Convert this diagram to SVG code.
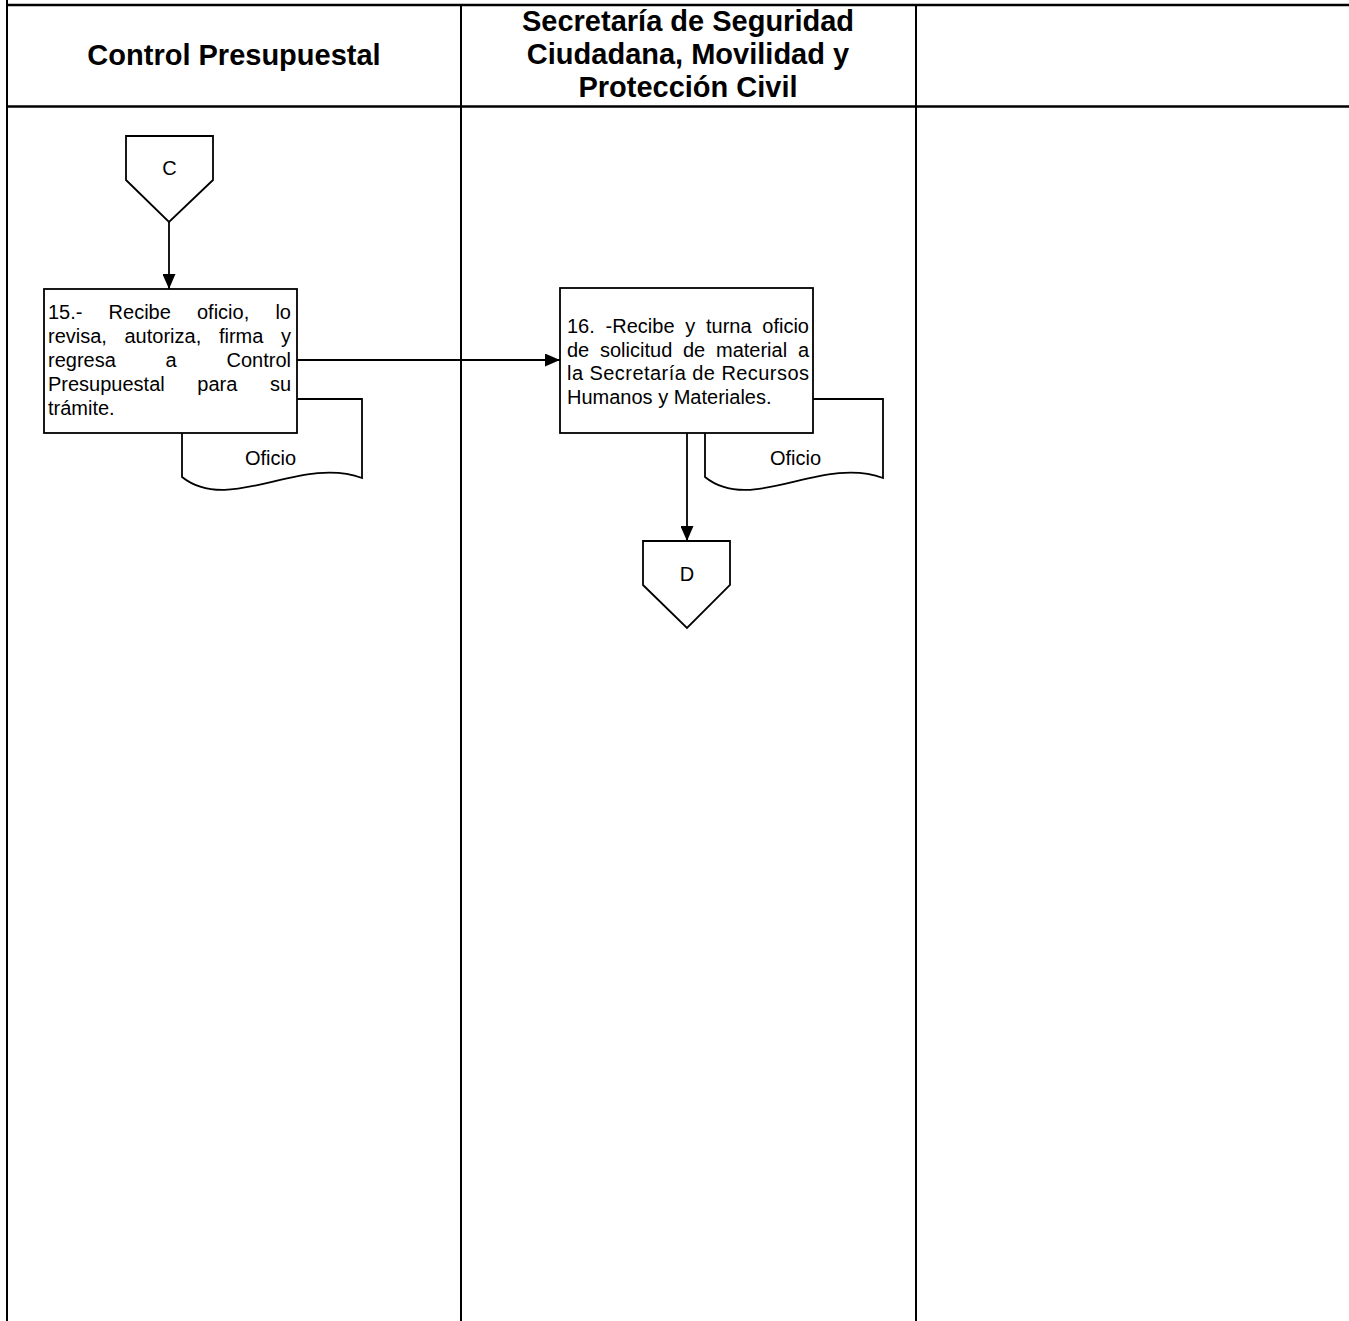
<svg xmlns="http://www.w3.org/2000/svg" width="1349" height="1321" viewBox="0 0 1349 1321">
<style>
.lane{stroke:#000;stroke-width:2;fill:none}
.laneh{stroke:#000;stroke-width:2.5;fill:none}
.shape{stroke:#000;stroke-width:1.8;fill:#fff}
.conn{stroke:#000;stroke-width:1.8;fill:none}
.hdr{font-family:"Liberation Sans",Arial,sans-serif;font-weight:bold;font-size:29px;fill:#000;text-anchor:middle}
.t{font-family:"Liberation Sans",Arial,sans-serif;font-size:20px;fill:#000}
.tc{font-family:"Liberation Sans",Arial,sans-serif;font-size:20px;fill:#000;text-anchor:middle}
</style>
<defs>
<marker id="arr" markerWidth="15" markerHeight="13" refX="15" refY="6.5" orient="auto" markerUnits="userSpaceOnUse">
<path d="M0,0 L15,6.5 L0,13 z" fill="#000"/>
</marker>
</defs>
<rect x="0" y="0" width="1349" height="1321" fill="#fff"/>
<g id="lanes">
<line class="lane" x1="7" y1="0" x2="7" y2="1321"/>
<line class="laneh" x1="7" y1="5" x2="1349" y2="5"/>
<line class="laneh" x1="7" y1="106.5" x2="1349" y2="106.5"/>
<line class="lane" x1="461" y1="5" x2="461" y2="1321"/>
<line class="lane" x1="916" y1="5" x2="916" y2="1321"/>
<text class="hdr" x="234" y="65">Control Presupuestal</text>
<text class="hdr" x="688" y="31">Secretaría de Seguridad</text>
<text class="hdr" x="688" y="64">Ciudadana, Movilidad y</text>
<text class="hdr" x="688" y="97">Protección Civil</text>
</g>
<g id="doc15">
<path class="shape" d="M182,399 L362,399 L362,478 C300,455 230,515 182,477 Z"/>
<text class="t" x="245" y="465">Oficio</text>
</g>
<g id="doc16">
<path class="shape" d="M705,399 L883,399 L883,478 C821,455 752,515 705,477 Z"/>
<text class="t" x="770" y="465">Oficio</text>
</g>
<g id="connC">
<path class="shape" d="M126,136 L213,136 L213,180 L169,222 L126,180 Z"/>
<text class="tc" x="169.5" y="175">C</text>
</g>
<g id="step15">
<rect class="shape" x="44" y="289" width="253" height="144"/>
<text class="t" y="319"><tspan x="48">15.-</tspan><tspan x="108.6">Recibe</tspan><tspan x="197">oficio,</tspan><tspan x="275.4">lo</tspan></text>
<text class="t" y="343"><tspan x="48">revisa,</tspan><tspan x="124.5">autoriza,</tspan><tspan x="218.9">firma</tspan><tspan x="281">y</tspan></text>
<text class="t" y="367"><tspan x="48">regresa</tspan><tspan x="165.6">a</tspan><tspan x="226.5">Control</tspan></text>
<text class="t" y="391"><tspan x="48">Presupuestal</tspan><tspan x="197.3">para</tspan><tspan x="269.9">su</tspan></text>
<text class="t" x="48" y="415">trámite.</text>
</g>
<g id="step16">
<rect class="shape" x="560" y="288" width="253" height="145"/>
<text class="t" y="333"><tspan x="567">16.</tspan><tspan x="605.6">-Recibe</tspan><tspan x="685.2">y</tspan><tspan x="706">turna</tspan><tspan x="762.3">oficio</tspan></text>
<text class="t" y="356.5"><tspan x="567">de</tspan><tspan x="600">solicitud</tspan><tspan x="683">de</tspan><tspan x="716">material</tspan><tspan x="797.9">a</tspan></text>
<text class="t" x="567" y="380" textLength="242" lengthAdjust="spacing">la Secretaría de Recursos</text>
<text class="t" x="567" y="403.5">Humanos y Materiales.</text>
</g>
<g id="connD">
<path class="shape" d="M643,541 L730,541 L730,585 L687,628 L643,585 Z"/>
<text class="tc" x="687" y="581">D</text>
</g>
<g id="connectors">
<line class="conn" x1="169" y1="222" x2="169" y2="289" marker-end="url(#arr)"/>
<line class="conn" x1="297" y1="360" x2="560" y2="360" marker-end="url(#arr)"/>
<line class="conn" x1="687" y1="433" x2="687" y2="541" marker-end="url(#arr)"/>
</g>
</svg>
